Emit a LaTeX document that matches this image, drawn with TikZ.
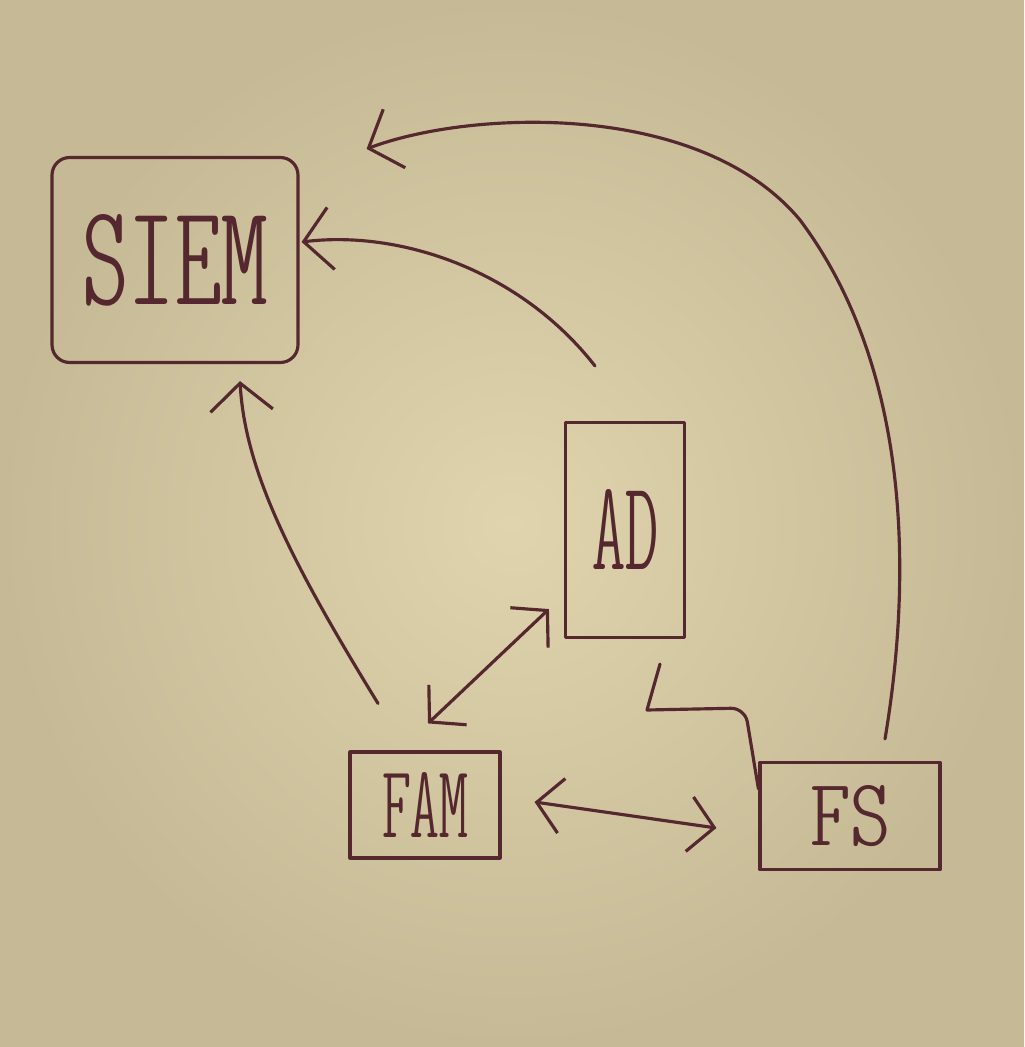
\documentclass[tikz,border=0pt]{standalone}
\usepackage{graphicx}
\usepackage{fontspec}
\usetikzlibrary{arrows.meta}
\newfontfamily\handfont{lmmonoltcond10-regular.otf}
\definecolor{ink}{RGB}{84,40,46}
\definecolor{paperin}{RGB}{224,212,174}
\definecolor{paperout}{RGB}{198,186,150}
\begin{document}
\begin{tikzpicture}[x=0.02cm,y=-0.02cm,
  pen/.style={draw=ink,line width=1.8pt,line cap=round,line join=round},
  box/.style={pen,rectangle,inner sep=0pt,text=ink,font=\handfont},
  tip/.style={-{Straight Barb[length=0.55cm,width=1.25cm]}},
  tips/.style={{Straight Barb[length=0.5cm,width=1.1cm]}-{Straight Barb[length=0.5cm,width=1.1cm]}}]
  % paper
  \shade[inner color=paperin,outer color=paperout] (0,0) rectangle (1024,1047);
  \useasboundingbox (0,0) rectangle (1024,1047);
  % boxes
  \node[box,rounded corners=10pt,minimum width=4.92cm,minimum height=4.1cm] (siem) at (175,260) {\resizebox{3.7cm}{1.8cm}{SIEM}};
  \node[box,minimum width=2.38cm,minimum height=4.3cm] (ad) at (625,530) {\resizebox{1.32cm}{1.6cm}{AD}};
  \node[box,minimum width=3.0cm,minimum height=2.12cm] (fam) at (425,805) {\resizebox{1.72cm}{1.3cm}{FAM}};
  \node[box,minimum width=3.6cm,minimum height=2.14cm] (fs) at (850,816) {\resizebox{1.6cm}{1.2cm}{FS}};
  % connector end points
  \coordinate (fsout) at ([shift={(35,-22)}]fs.north);
  \coordinate (siemtop) at ([shift={(67,-7)}]siem.north east);
  \coordinate (adout) at ([shift={(-30,-55)}]ad.north);
  \coordinate (siemright) at ([shift={(2,-18)}]siem.east);
  \coordinate (famout) at ([shift={(-47,-47)}]fam.north);
  \coordinate (siembot) at ([shift={(65,17)}]siem.south);
  \coordinate (adlow) at ([shift={(-15,-30)}]ad.south west);
  \coordinate (famtop) at ([shift={(3,-27)}]fam.north);
  \coordinate (famright) at ([shift={(33,-3)}]fam.east);
  \coordinate (fsleft) at ([shift={(-42,12)}]fs.west);
  \coordinate (adbot) at ([shift={(35,25)}]ad.south);
  \coordinate (fsin) at ([shift={(0,28)}]fs.north west);
  % connectors
  \draw[pen,tip] (fsout) .. controls (915,560) and (905,360) .. (800,220)
        .. controls (700,100) and (470,110) .. (siemtop);
  \draw[pen,tip] (adout) .. controls (520,270) and (400,230) .. (siemright);
  \draw[pen,tip] (famout) .. controls (290,560) and (245,470) .. (siembot);
  \draw[pen,tips] (adlow) -- (famtop);
  \draw[pen,tips] (famright) -- (fsleft);
  \draw[pen] (adbot) -- (647,710) [rounded corners=8pt] -- (745,708) -- (fsin);
\end{tikzpicture}
\end{document}
